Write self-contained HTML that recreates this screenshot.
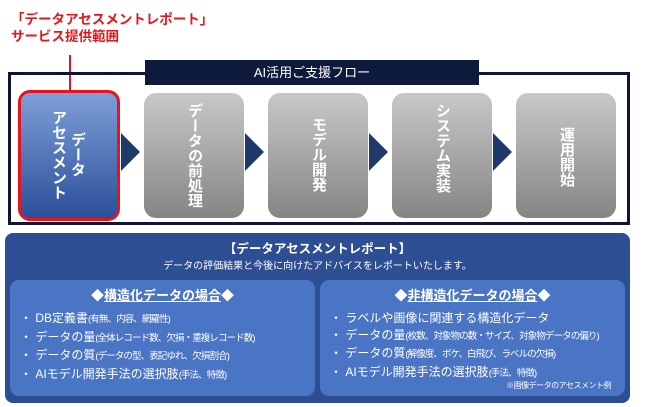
<!DOCTYPE html>
<html><head><meta charset="utf-8"><style>
*{margin:0;padding:0;box-sizing:border-box}
body{width:650px;height:407px;background:#fff;position:relative;overflow:hidden;font-family:"Liberation Sans","Noto Sans CJK JP",sans-serif}
.a{position:absolute}
.red{color:#e8141b;font-weight:bold;font-size:13.5px;line-height:16px;left:11px}
.frame{left:8px;top:72px;width:622px;height:153px;border:3px solid #0d1633}
.bar{left:145px;top:60px;width:334px;height:25px;background:#0d1a3c;color:#fff;font-size:13px;text-align:center;line-height:25px}
.box{top:93px;width:100px;height:125px;border-radius:12px;background:linear-gradient(#c8c8c8,#858585);color:#fff;font-weight:bold;font-size:15px}
.v{writing-mode:vertical-rl;position:absolute;line-height:16px}
.arr{width:0;height:0;border-top:19px solid transparent;border-bottom:19px solid transparent;border-left:19px solid #1f3a68;top:133px}
.panel{left:5px;top:233px;width:625px;height:170px;background:#2d4e92;border-radius:8px}
.in{top:280px;width:305px;height:116px;background:#4a74c4;border-radius:9px;color:#fff}
.in h3{font-size:13px;text-align:center;margin-top:8px;font-weight:bold;line-height:16px}
.in ul{list-style:none;margin:6px 0 0 10px;font-size:12px;line-height:16.5px;white-space:nowrap}
.in li span{font-size:9.5px;letter-spacing:-0.9px}
</style></head><body>
<div class="a red" style="top:12px">「データアセスメントレポート」</div>
<div class="a red" style="top:29px">サービス提供範囲</div>
<div class="a" style="left:69px;top:55px;width:2px;height:37px;background:#e8141b"></div>
<div class="a frame"></div>
<div class="a bar">AI活用ご支援フロー</div>
<div class="a box" style="left:18px;top:90px;width:102px;height:131px;background:linear-gradient(#7e9fd8,#2b4f9a);border:3px solid #e8141b">
 <div class="v" style="left:48px;top:39px">データ</div>
 <div class="v" style="left:29px;top:17px">アセスメント</div>
</div>
<div class="a arr" style="left:121px"></div>
<div class="a box" style="left:144px"><div class="v" style="left:42px;top:10px">データの前処理</div></div>
<div class="a arr" style="left:245px"></div>
<div class="a box" style="left:268px"><div class="v" style="left:42px;top:24px">モデル開発</div></div>
<div class="a arr" style="left:369px"></div>
<div class="a box" style="left:392px"><div class="v" style="left:42px;top:10px">システム実装</div></div>
<div class="a arr" style="left:493px"></div>
<div class="a box" style="left:516px"><div class="v" style="left:42px;top:34px">運用開始</div></div>
<div class="a panel"></div>
<div class="a" style="left:5px;width:625px;top:238px;text-align:center;color:#fff;font-weight:bold;font-size:12.5px">【データアセスメントレポート】</div>
<div class="a" style="left:5px;width:625px;top:257px;text-align:center;color:#fff;font-size:10px">データの評価結果と今後に向けたアドバイスをレポートいたします。</div>
<div class="a in" style="left:10px">
 <h3>◆<u>構造化データの場合</u>◆</h3>
 <ul><li>・ DB定義書<span>(有無、内容、網羅性)</span></li><li>・ データの量<span>(全体レコード数、欠損・重複レコード数)</span></li><li>・ データの質<span>(データの型、表記ゆれ、欠損割合)</span></li><li>・ AIモデル開発手法の選択肢<span>(手法、特徴)</span></li></ul>
</div>
<div class="a in" style="left:320px">
 <h3>◆<u>非構造化データの場合</u>◆</h3>
 <ul><li>・ ラベルや画像に関連する構造化データ</li><li>・ データの量<span>(枚数、対象物の数・サイズ、対象物データの偏り)</span></li><li>・ データの質<span>(解像度、ボケ、白飛び、ラベルの欠損)</span></li><li>・ AIモデル開発手法の選択肢<span>(手法、特徴)</span></li></ul>
 <div style="position:absolute;right:14px;top:100px;font-size:8px;letter-spacing:-0.5px">※画像データのアセスメント例</div>
</div>
</body></html>
